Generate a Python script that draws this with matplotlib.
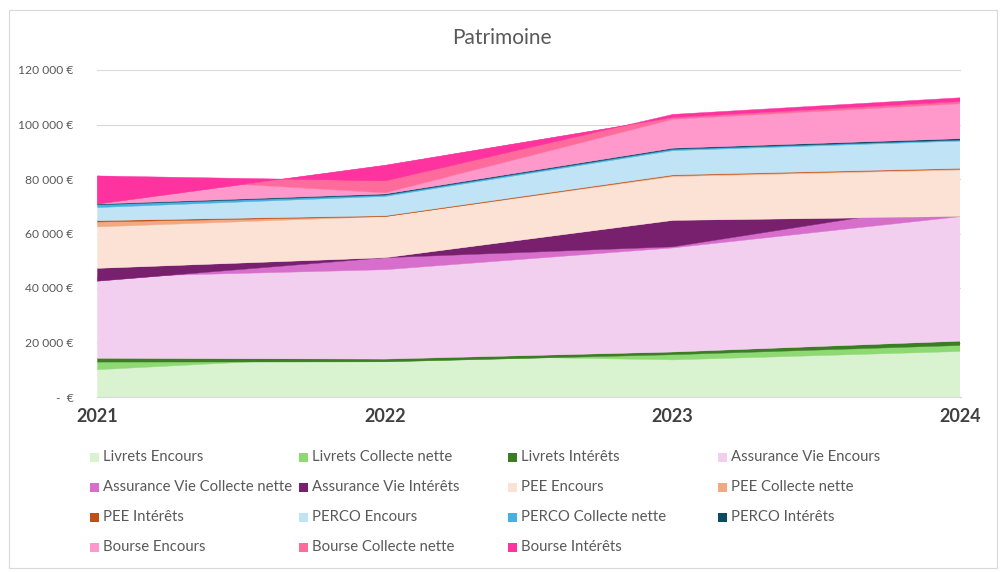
import numpy as np
import matplotlib
matplotlib.use("Agg")
import matplotlib.pyplot as plt
from matplotlib.patches import Rectangle
from matplotlib.transforms import Bbox

years = ["2021", "2022", "2023", "2024"]

livrets_encours = [10200, 15600, 13800, 16900]
livrets_collecte = [2800, -2500, 1900, 2200]
livrets_interets = [1400, 1000, 1000, 1600]
av_encours = [29800, 32800, 38200, 45700]
av_collecte = [-1500, 4400, 400, 5400]
av_interets = [4700, 0, 9700, -5400]
pee_encours = [15200, 15100, 16100, 17100]
pee_collecte = [1800, 0, 300, 300]
pee_interets = [500, 300, 300, 300]
perco_encours = [4800, 7100, 8900, 10000]
perco_collecte = [1000, 500, 500, 400]
perco_interets = [300, 400, 400, 500]
bourse_encours = [10300, 400, 10600, 12800]
bourse_collecte = [-10300, 10100, 600, 800]
bourse_interets = [10300, -5700, 1200, 1400]

series_names = [
    "Livrets Encours", "Livrets Collecte nette", "Livrets Intérêts",
    "Assurance Vie Encours", "Assurance Vie Collecte nette", "Assurance Vie Intérêts",
    "PEE Encours", "PEE Collecte nette", "PEE Intérêts",
    "PERCO Encours", "PERCO Collecte nette", "PERCO Intérêts",
    "Bourse Encours", "Bourse Collecte nette", "Bourse Intérêts",
]
series_values = [
    livrets_encours, livrets_collecte, livrets_interets,
    av_encours, av_collecte, av_interets,
    pee_encours, pee_collecte, pee_interets,
    perco_encours, perco_collecte, perco_interets,
    bourse_encours, bourse_collecte, bourse_interets,
]
colors = [
    "#d9f2d0", "#8ed973", "#3b7d23",
    "#f2ceef", "#d86ecc", "#78206e",
    "#fbe2d5", "#f1a983", "#c04f15",
    "#c0e4f5", "#45b0e1", "#0e4a62",
    "#ff99cc", "#ff6c9c", "#ff33a0",
]

plt.rcParams['font.family'] = ['Lato', 'DejaVu Sans']

W, H = 1000, 572
fig = plt.figure(figsize=(W / 100, H / 100), dpi=100)

# chart border
fig.patches.append(Rectangle((9 / W, 1 - 568 / H), 988 / W, 558 / H, transform=fig.transFigure,
                             fill=False, edgecolor="#d9d9d9", linewidth=0.8))

ax_left, ax_right = 97, 960.5
ax_top, ax_bottom = 70, 397
ax = fig.add_axes([ax_left / W, 1 - ax_bottom / H, (ax_right - ax_left) / W, (ax_bottom - ax_top) / H])

bb = ax.bbox
clip = Bbox([[np.ceil(bb.x0), bb.y0 - 2], [np.floor(bb.x1) - 1, bb.y1 + 2]])

x = np.arange(len(years))
base = np.zeros(len(years))
for vals, col in zip(series_values, colors):
    top = base + np.array(vals, dtype=float)
    pc = ax.fill_between(x, base, top, facecolor=col, edgecolor=col, linewidth=0.3, zorder=2)
    pc.set_clip_box(clip)
    base = top

ax.set_xlim(0, len(years) - 1)
ax.set_ylim(0, 120000)
ax.set_yticks(np.arange(0, 120001, 20000))

def fmt(v):
    if v == 0:
        return "-  €"
    return f"{int(v):,}".replace(",", " ") + " €"

ax.set_yticklabels([fmt(v) for v in ax.get_yticks()], fontsize=8.7, color="#595959")
ax.set_xticks(x)
ax.set_xticklabels(years, fontsize=13, fontweight="bold", color="#404040")
ax.tick_params(axis="y", length=0, pad=17)
ax.tick_params(axis="x", length=0, pad=8)
ax.grid(axis="y", color="#d9d9d9", linewidth=0.8, zorder=0)
ax.set_axisbelow(True)
for s in ["top", "right", "left"]:
    ax.spines[s].set_visible(False)
ax.spines["bottom"].set_color("#d9d9d9")
ax.spines["bottom"].set_linewidth(0.8)
ax.spines["bottom"].set_zorder(3)

fig.text(502 / W, 1 - 38 / H, "Patrimoine", ha="center", va="center", fontsize=15, color="#595959")

# legend, drawn manually in 4 columns
col_x = [90, 299, 508, 718]
row_y = [457, 487, 517, 547]
sq = 9
for k, (name, col) in enumerate(zip(series_names, colors)):
    r, c = divmod(k, 4)
    xx, yy = col_x[c], row_y[r]
    fig.patches.append(Rectangle((xx / W, 1 - (yy + sq / 2) / H), sq / W, sq / H,
                                 transform=fig.transFigure, facecolor=col, edgecolor="none"))
    fig.text((xx + 13) / W, 1 - yy / H, name, ha="left", va="center", fontsize=10.7, color="#595959")

fig.savefig("out.png", dpi=100)
